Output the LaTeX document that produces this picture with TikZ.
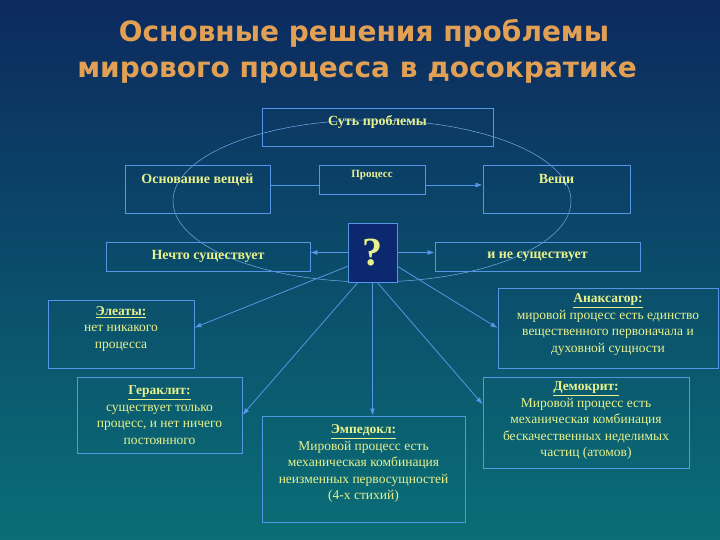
\documentclass[tikz,border=0pt]{standalone}
\usepackage{fontspec}
\setmainfont{Liberation Serif}
\newfontfamily\titlefont{DejaVu Sans}
\usetikzlibrary{arrows.meta}

\definecolor{bgtop}{RGB}{12,42,95}
\definecolor{bgbot}{RGB}{10,110,118}
\definecolor{frame}{RGB}{85,150,230}
\definecolor{txt}{RGB}{232,242,140}
\definecolor{ttl}{RGB}{226,160,84}
\definecolor{qfill}{RGB}{12,40,110}

\begin{document}
\begin{tikzpicture}[
  x=1pt, y=-1pt,
  font=\fontsize{13.5}{16.5}\selectfont,
  title/.style ={text=ttl, font=\titlefont\bfseries\fontsize{28}{32}\selectfont},
  box/.style   ={rectangle, draw=frame, line width=0.9pt, text=txt,
                 align=center, inner sep=2pt},
  topbox/.style={box, font=\fontsize{14}{16}\selectfont\bfseries},
  lift/.style  ={text depth=#1},
  link/.style  ={draw=frame, line width=0.8pt},
  flow/.style  ={link, -{Latex[length=7pt, width=5pt]}},
  ring/.style  ={draw=frame!80!white, line width=0.5pt}
]

% ---------- Background ----------
\useasboundingbox (0,0) rectangle (720,540);
\shade[top color=bgtop, bottom color=bgbot] (0,0) rectangle (720,540);

% ---------- Title ----------
\node[title] (ttl1) at (364,33) {Основные решения проблемы};
\node[title] (ttl2) at (357,73) {мирового процесса в досократике};

% ---------- Upper row ----------
\draw[ring] (372,201) ellipse [x radius=199, y radius=81];

\node[topbox, minimum width=231pt, minimum height=38pt, lift=13pt] (sut) at (377.5,127) {Суть проблемы};
\node[topbox, minimum width=145pt, minimum height=48pt, lift=21pt] (osn) at (197.5,189) {Основание вещей};
\node[topbox, minimum width=106pt, minimum height=29pt, lift=11pt,
      font=\fontsize{11}{13}\selectfont\bfseries] (proc) at (372,179.5) {Процесс};
\node[topbox, minimum width=147pt, minimum height=48pt, lift=21pt] (veshi) at (556.5,189) {Вещи};
\node[topbox, minimum width=204pt, minimum height=29pt] (nechto) at (208,256.5) {Нечто существует};
\node[topbox, minimum width=205pt, minimum height=29pt] (ine) at (537.5,256.5) {и не существует};

\node[box, fill=qfill, minimum width=49pt, minimum height=59pt,
      font=\fontsize{40}{40}\selectfont\bfseries] (vopros) at (372.5,252.5) {?};

% ---------- Answers ----------
\node[box, minimum width=146pt, minimum height=68pt, lift=13pt] (elea) at (121,334)
  {\underline{\textbf{Элеаты:}}\\нет никакого\\процесса};
\node[box, minimum width=220pt, minimum height=80pt, lift=10pt] (anax) at (608,328)
  {\underline{\textbf{Анаксагор:}}\\мировой процесс есть единство\\вещественного первоначала и\\духовной сущности};
\node[box, minimum width=165pt, minimum height=76pt] (gerak) at (159.5,415)
  {\underline{\textbf{Гераклит:}}\\существует только\\процесс, и нет ничего\\постоянного};
\node[box, minimum width=206pt, minimum height=91pt, lift=6pt] (demo) at (586,422.5)
  {\underline{\textbf{Демокрит:}}\\Мировой процесс есть\\механическая комбинация\\бескачественных неделимых\\частиц (атомов)};
\node[box, minimum width=203pt, minimum height=106pt, lift=13pt] (emped) at (363.5,469)
  {\underline{\textbf{Эмпедокл:}}\\Мировой процесс есть\\механическая комбинация\\неизменных первосущностей\\(4-х стихий)};

% ---------- Arrows ----------
\draw[link] ([yshift=4pt]osn.east) -- ([yshift=4pt]osn.east -| proc.west);
\draw[flow] ([yshift=4pt]veshi.west -| proc.east) -- ([yshift=4pt]veshi.west);

\draw[flow] (vopros.west) -- (vopros.west -| nechto.east);
\draw[flow] (vopros.east) -- (vopros.east -| ine.west);

\draw[flow] (vopros.209)   -- (elea.5);
\draw[flow] (vopros.331)   -- (anax.west);
\draw[flow] (vopros.244)   -- (gerak.east);
\draw[flow] (vopros.south) -- (vopros.south |- emped.north);
\draw[flow] (vopros.279)   -- (demo.170);

\end{tikzpicture}
\end{document}
